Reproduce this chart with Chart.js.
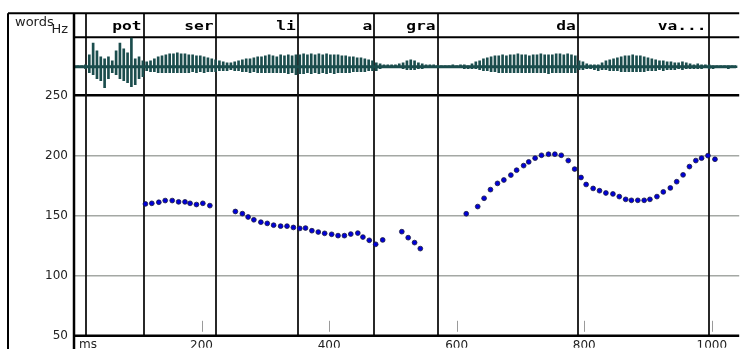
<!DOCTYPE html>
<html>
<head>
<meta charset="utf-8">
<script src="https://cdn.jsdelivr.net/npm/chart.js@4.4.1/dist/chart.umd.min.js"></script>
<style>
  html, body { margin: 0; padding: 0; background: #fff; }
  #wrap { width: 744px; height: 349px; }
</style>
</head>
<body>
<div id="wrap"><canvas id="pitchChart" width="744" height="349"></canvas></div>
<script>
// pitch track (time in ms, F0 in Hz)
const pitchMs = [
  112, 122, 133, 143, 154, 164, 174, 182, 192, 202, 213,
  253, 264, 273, 282, 293, 303, 313, 324, 334, 344, 354, 363, 373, 383, 393, 404, 414, 424, 434, 445, 453, 463, 473, 484,
  514, 524, 534, 543,
  615, 633, 643, 653, 664, 674, 685, 694, 705, 713, 723, 733, 744, 754, 764, 775, 785, 795, 803, 814, 824, 834, 845,
  855, 865, 874, 884, 894, 903, 914, 924, 935, 945, 955, 965, 975, 984, 994, 1005
];
const pitchHz = [
  159.8, 160.3, 161.2, 162.6, 162.6, 161.5, 161.5, 160.3, 159.3, 160.3, 158.4,
  153.5, 151.7, 148.9, 146.6, 144.6, 143.6, 142.1, 141.3, 141.3, 140.2, 139.4, 139.7, 137.5, 136.4, 135.3, 134.5, 133.4, 133.4, 134.7, 135.5, 132.2, 129.5, 126.2, 129.8,
  136.7, 131.7, 127.6, 122.6,
  151.6, 157.6, 164.5, 171.7, 176.9, 179.7, 183.8, 187.9, 191.7, 194.8, 197.9, 200.3, 201.2, 201.2, 200.3, 195.9, 188.8, 181.8, 176.0, 172.7, 170.8, 168.9, 168.1,
  165.9, 163.6, 162.8, 162.8, 162.8, 163.6, 165.9, 169.8, 173.1, 178.3, 184.0, 190.9, 195.9, 197.9, 200.0, 197.0
];

const hzTicks = [50, 100, 150, 200, 250];
const msTicks = [200, 400, 600, 800, 1000];

// word tier
const wordNames = ['pot', 'ser', 'li', 'a', 'gra', 'da', 'va...'];
const wordStartMs = 19;
const wordEndMs = [109, 222, 351, 471, 570, 790, 995];

// oscillogram envelope, one entry every 6 ms (peak up / peak down, arbitrary units)
const waveStepMs = 6;
const waveTop = [
  1, 1, 1, 2, 12, 24, 16, 10, 8, 10, 6, 16, 24, 18, 14, 29, 8, 10, 6,
  5, 6, 8, 10, 11, 12, 13, 13, 14, 13, 13, 12, 12, 11, 11, 10, 9, 8, 7,
  6, 5, 4, 4, 5, 6,
  7, 8, 8, 9, 10, 10, 11, 12, 11, 10, 12, 11, 12, 11, 12,
  12, 13, 12, 13, 12, 13, 12, 13, 12, 12, 12, 11, 11, 10, 10, 9, 9, 8, 7, 6,
  4, 3, 2, 2, 2, 2, 3, 4, 6, 7, 6, 4, 3, 2, 2, 2,
  1, 1, 1, 1, 2, 1, 2, 2, 1, 3, 5, 6, 8,
  9, 10, 11, 11, 12, 11, 12, 12, 13, 12, 12, 11, 12, 12, 13, 12, 12, 12, 13, 13, 12, 13, 12, 11,
  6, 5, 3, 2, 2, 2, 4, 6, 7, 8, 9, 10, 11, 11, 12, 11, 11, 10, 9, 8, 7, 6, 6, 5, 5, 4, 4, 5, 4, 3, 2, 3, 2, 2, 2, 1, 1, 1, 1, 1, 1, 1
];
const waveBottom = [
  1, 1, 1, 2, 6, 8, 12, 14, 21, 12, 6, 8, 12, 14, 16, 20, 18, 12, 10,
  4, 5, 5, 6, 6, 6, 6, 6, 6, 6, 6, 6, 5, 6, 5, 6, 5, 5, 5,
  4, 4, 4, 3, 4, 4,
  5, 5, 6, 5, 6, 6, 6, 6, 6, 6, 6, 6, 7, 6, 8,
  7, 7, 6, 7, 6, 7, 6, 7, 6, 7, 6, 6, 6, 6, 5, 5, 5, 5, 4, 4,
  4, 2, 1, 1, 1, 1, 1, 2, 3, 3, 3, 2, 2, 1, 1, 1,
  1, 1, 1, 1, 1, 1, 1, 2, 2, 2, 2, 3, 4,
  4, 5, 5, 6, 6, 6, 6, 6, 6, 6, 6, 6, 6, 6, 6, 6, 7, 6, 6, 6, 6, 6, 6, 6,
  3, 3, 2, 2, 3, 4, 3, 3, 4, 4, 4, 5, 5, 5, 5, 5, 5, 5, 4, 4, 4, 3, 4, 3, 3, 3, 2, 3, 2, 2, 2, 2, 2, 1, 2, 2, 1, 1, 1, 2, 1, 1
];

const TEXT = '#222';
const GRID = '#a4a8a4';
const WAVE = '#1b4d4d';

const pitchPoints = pitchMs.map((t, i) => ({ x: t, y: pitchHz[i] }));
const waveBars = waveTop.map((v, i) => ({ x: i * waveStepMs, y: [-waveBottom[i], v] }));
const waveEnd = (waveTop.length - 1) * waveStepMs;

const bandsPlugin = {
    id: 'bands',
    beforeDatasetsDraw(chart) {
        const { ctx, chartArea: a, scales: { x } } = chart;
        ctx.save();
        ctx.strokeStyle = '#111';
        ctx.lineWidth = 1.8;
        [wordStartMs, ...wordEndMs].forEach(ms => {
            const px = Math.round(x.getPixelForValue(ms));
            ctx.beginPath();
            ctx.moveTo(px, a.top);
            ctx.lineTo(px, a.bottom);
            ctx.stroke();
        });
        // bottom of the word tier
        ctx.strokeStyle = '#000';
        ctx.lineWidth = 2;
        ctx.beginPath();
        ctx.moveTo(a.left, a.top + 24);
        ctx.lineTo(a.right, a.top + 24);
        ctx.stroke();
        ctx.restore();
    },
    afterDraw(chart) {
        const { ctx, chartArea: a, scales: { x } } = chart;
        const h = chart.height;
        ctx.save();
        ctx.strokeStyle = '#000';
        // outer frame
        ctx.lineWidth = 2;
        ctx.beginPath();
        ctx.moveTo(8, a.top);
        ctx.lineTo(a.right, a.top);
        ctx.moveTo(8, a.top);
        ctx.lineTo(8, h);
        ctx.stroke();
        // axes
        ctx.lineWidth = 2.5;
        ctx.beginPath();
        ctx.moveTo(a.left, a.top);
        ctx.lineTo(a.left, h);
        ctx.moveTo(a.left, a.bottom);
        ctx.lineTo(a.right, a.bottom);
        ctx.stroke();
        // small time marks inside the plot
        ctx.strokeStyle = '#9a9a9a';
        ctx.lineWidth = 1;
        msTicks.forEach(ms => {
            const px = Math.round(x.getPixelForValue(ms)) + 0.5;
            ctx.beginPath();
            ctx.moveTo(px, a.bottom - 15);
            ctx.lineTo(px, a.bottom - 4);
            ctx.stroke();
        });
        // texts
        ctx.fillStyle = TEXT;
        ctx.font = '12px "DejaVu Sans"';
        ctx.textAlign = 'left';
        ctx.textBaseline = 'top';
        ctx.fillText('ms', a.left + 5, a.bottom + 3);
        ctx.font = '13px "DejaVu Sans"';
        ctx.textBaseline = 'alphabetic';
        ctx.fillText('words', 15, 26);
        ctx.textAlign = 'right';
        ctx.fillText('Hz', 68, 32.5);

        // word labels: wide bold monospace
        ctx.fillStyle = '#000';
        ctx.font = 'bold 13px "DejaVu Sans Mono"';
        ctx.textAlign = 'right';
        const sx = 1.25;
        wordNames.forEach((w, i) => {
            const px = x.getPixelForValue(wordEndMs[i]) - 2;
            ctx.save();
            ctx.scale(sx, 1);
            ctx.fillText(w, px / sx, a.top + 17);
            ctx.restore();
        });
        ctx.restore();
    }
};

new Chart(document.getElementById('pitchChart'), {
    type: 'scatter',
    data: {
        datasets: [
            {
                type: 'bar',
                data: waveBars,
                yAxisID: 'yw',
                backgroundColor: WAVE,
                borderWidth: 0,
                barThickness: 2,
                grouped: false,
                order: 2
            },
            {
                type: 'line',
                data: [{ x: 0, y: 0 }, { x: waveEnd, y: 0 }],
                yAxisID: 'yw',
                borderColor: WAVE,
                borderWidth: 3,
                pointRadius: 0,
                order: 3
            },
            {
                type: 'scatter',
                data: pitchPoints,
                yAxisID: 'y',
                pointRadius: 2.4,
                backgroundColor: '#0000d8',
                borderColor: '#1a1a40',
                borderWidth: 0.8,
                order: 1
            }
        ]
    },
    options: {
        responsive: false,
        animation: false,
        devicePixelRatio: 1,
        layout: { padding: { top: 12, left: 0, right: 0, bottom: 0 } },
        plugins: {
            legend: { display: false },
            tooltip: { enabled: false }
        },
        scales: {
            x: {
                type: 'linear',
                min: 0,
                max: 1043,
                offset: false,
                afterBuildTicks: scale => { scale.ticks = msTicks.map(v => ({ value: v })); },
                afterFit: scale => { scale.height = 12; },
                grid: { display: false, drawTicks: false },
                border: { display: false },
                ticks: {
                    autoSkip: false,
                    maxRotation: 0,
                    padding: 3,
                    color: TEXT,
                    font: { family: 'DejaVu Sans', size: 12 },
                    callback: v => String(v)
                }
            },
            y: {
                type: 'linear',
                position: 'left',
                min: 50,
                max: 318.6,
                afterBuildTicks: scale => { scale.ticks = hzTicks.map(v => ({ value: v })); },
                afterFit: scale => { scale.width = 74; },
                grid: {
                    drawTicks: false,
                    color: c => c.tick.value === 250 ? '#000' : (c.tick.value === 50 ? 'rgba(0,0,0,0)' : GRID),
                    lineWidth: c => c.tick.value === 250 ? 2.5 : 1.5
                },
                border: { display: false },
                ticks: {
                    padding: 6,
                    color: TEXT,
                    font: { family: 'DejaVu Sans', size: 12 }
                }
            },
            yw: {
                type: 'linear',
                display: false,
                min: -271,
                max: 54
            }
        }
    },
    plugins: [bandsPlugin]
});
</script>
</body>
</html>
